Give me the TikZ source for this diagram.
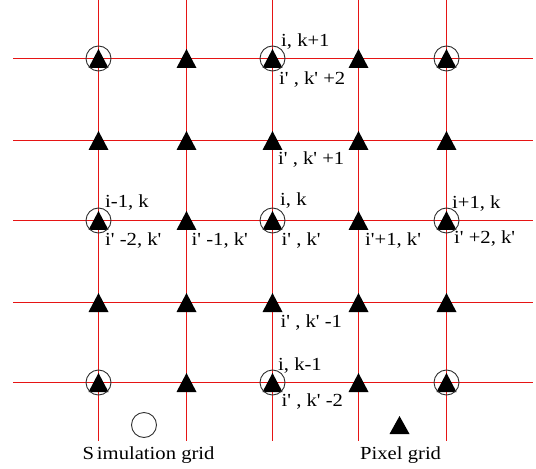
\documentclass[tikz,border=0pt]{standalone}
\usepackage{fontspec}
\setmainfont{Liberation Serif}[Ligatures=TeXOff]
\definecolor{gridred}{RGB}{230,20,20}
\definecolor{ringgray}{RGB}{50,50,50}
\newcommand{\stretchlab}[1]{\scalebox{1.12}[1]{#1}}
\tikzset{
  gridline/.style={line width=1.3bp, draw=gridred},
  ring/.style={draw=ringgray, line width=0.9bp},
  tri/.style={fill=black},
  lab/.style={anchor=base west, inner sep=0pt, font=\fontsize{18.5}{20}\selectfont},
}
\begin{document}
\begin{tikzpicture}[x=1bp,y=-1bp]
\useasboundingbox (0,0) rectangle (536,469);
% horizontal lines
\foreach \yy in {58.5,140.5,220.5,302.5,382.5}
  \draw[gridline] (13,\yy) -- (533,\yy);
% vertical lines
\foreach \xx in {98.5,186.5,272.5,358.5,446.5}
  \draw[gridline] (\xx,0) -- (\xx,441);
% triangles at every intersection
\foreach \xx in {98.5,186.5,272.5,358.5,446.5}
  \foreach \yy in {58.5,140.5,220.5,302.5,382.5}
    \fill[tri] (\xx-10,\yy+9.5) -- (\xx,\yy-9.5) -- (\xx+10,\yy+9.5) -- cycle;
% circles of the simulation grid
\foreach \xx in {98.5,272.5,446.5}
  \foreach \yy in {58.5,220.5,382.5}
    \draw[ring] (\xx,\yy) circle (12.5);
% labels
\node[lab] (l1) at (281,47) {\stretchlab{i, k+1}};
\node[lab] (l2) at (279,85) {\stretchlab{i' , k' +2}};
\node[lab] (l3) at (278,165) {\stretchlab{i' , k' +1}};
\node[lab] (l4) at (105,208) {\stretchlab{i-1, k}};
\node[lab] (l5) at (105,245.5) {\stretchlab{i' -2, k'}};
\node[lab] (l6) at (191.5,245.5) {\stretchlab{i' -1, k'}};
\node[lab] (l7) at (280,206) {\stretchlab{i, k}};
\node[lab] (l8) at (281.5,245.5) {\stretchlab{i' , k'}};
\node[lab] (l9) at (365,245.5) {\stretchlab{i'+1, k'}};
\node[lab] (l10) at (452,209) {\stretchlab{i+1, k}};
\node[lab] (l11) at (454,244) {\stretchlab{i' +2, k'}};
\node[lab] (l12) at (280.5,327) {\stretchlab{i' , k' -1}};
\node[lab] (l13) at (278,370) {\stretchlab{i, k-1}};
\node[lab] (l14) at (281.5,406) {\stretchlab{i' , k' -2}};
% legend
\draw[ring] (144,425) circle (12.5);
\fill[tri] (389.5,434) -- (399.5,416) -- (409.5,434) -- cycle;
\node[lab] (sim) at (82.5,459) {\stretchlab{S\hspace{2.5bp}imulation grid}};
\node[lab] (pix) at (360,459) {\stretchlab{Pixel grid}};
\end{tikzpicture}
\end{document}
